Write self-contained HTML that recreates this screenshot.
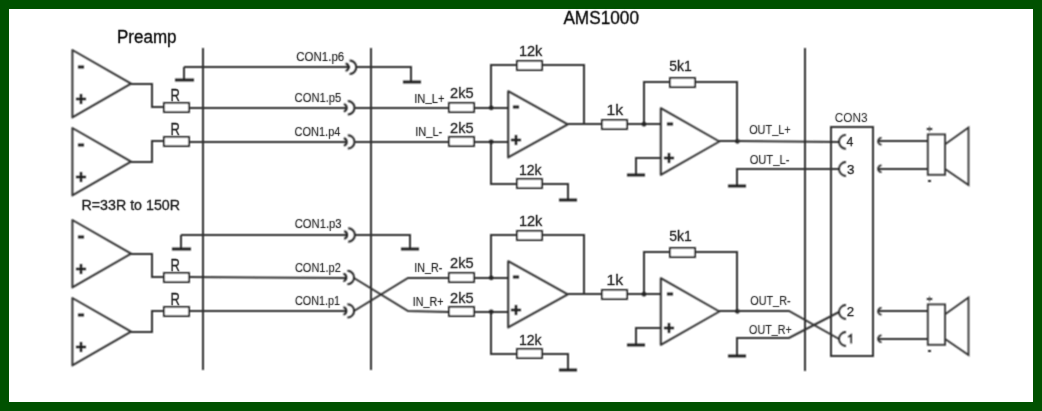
<!DOCTYPE html>
<html><head><meta charset="utf-8"><style>
html,body{margin:0;padding:0;background:#005100;}
body{width:1042px;height:411px;overflow:hidden;position:relative;}
#w{position:absolute;left:9px;top:9px;width:1024px;height:393px;background:#fff;}
svg{position:absolute;left:0;top:0;}
text{font-family:"Liberation Sans",sans-serif;}
#sv{position:absolute;left:0;top:0;width:1042px;height:411px;}
</style></head><body><div id="w"></div>
<div id="sv"><svg width="1042" height="411" viewBox="0 0 1042 411">
<defs><filter id="bl" x="0" y="0" width="1042" height="411" filterUnits="userSpaceOnUse"><feConvolveMatrix order="3" kernelMatrix="0.0686 0.1247 0.0686 0.1247 0.2266 0.1247 0.0686 0.1247 0.0686" divisor="1" edgeMode="none"/></filter><filter id="bt" x="0" y="0" width="1042" height="411" filterUnits="userSpaceOnUse"><feConvolveMatrix order="3" kernelMatrix="0.0144 0.0912 0.0144 0.0912 0.5776 0.0912 0.0144 0.0912 0.0144" divisor="1" edgeMode="none"/></filter></defs>
<g filter="url(#bl)">
<path d="M203,48 L203,370" fill="none" stroke="#2d2d2d" stroke-width="2.0"/>
<path d="M371,48 L371,370" fill="none" stroke="#2d2d2d" stroke-width="2.0"/>
<path d="M805,48 L805,371" fill="none" stroke="#2d2d2d" stroke-width="2.0"/>
<path d="M72.4,50.0 L131.1,83.7 L72.4,117.4 Z" fill="none" stroke="#2d2d2d" stroke-width="2.0" stroke-linejoin="round"/>
<path d="M78,67 L84,67" fill="none" stroke="#1a1a1a" stroke-width="2.8"/>
<path d="M76,99 L86,99" fill="none" stroke="#1a1a1a" stroke-width="2.4"/>
<path d="M81,94 L81,104" fill="none" stroke="#1a1a1a" stroke-width="2.4"/>
<path d="M72.4,128.0 L131.1,161.7 L72.4,195.4 Z" fill="none" stroke="#2d2d2d" stroke-width="2.0" stroke-linejoin="round"/>
<path d="M78,145 L84,145" fill="none" stroke="#1a1a1a" stroke-width="2.8"/>
<path d="M76,177 L86,177" fill="none" stroke="#1a1a1a" stroke-width="2.4"/>
<path d="M81,172 L81,182" fill="none" stroke="#1a1a1a" stroke-width="2.4"/>
<path d="M131,84 L152,84 L152,107 L163,107" fill="none" stroke="#2d2d2d" stroke-width="2.0"/>
<path d="M131,162 L152,162 L152,141 L163,141" fill="none" stroke="#2d2d2d" stroke-width="2.0"/>
<rect x="164" y="103" width="25" height="9" fill="#fff" stroke="#2d2d2d" stroke-width="2.0"/>
<rect x="164" y="137" width="25" height="9" fill="#fff" stroke="#2d2d2d" stroke-width="2.0"/>
<path d="M72.4,220.0 L131.1,253.7 L72.4,287.4 Z" fill="none" stroke="#2d2d2d" stroke-width="2.0" stroke-linejoin="round"/>
<path d="M78,237 L84,237" fill="none" stroke="#1a1a1a" stroke-width="2.8"/>
<path d="M76,269 L86,269" fill="none" stroke="#1a1a1a" stroke-width="2.4"/>
<path d="M81,264 L81,274" fill="none" stroke="#1a1a1a" stroke-width="2.4"/>
<path d="M72.4,298.0 L131.1,331.7 L72.4,365.4 Z" fill="none" stroke="#2d2d2d" stroke-width="2.0" stroke-linejoin="round"/>
<path d="M78,315 L84,315" fill="none" stroke="#1a1a1a" stroke-width="2.8"/>
<path d="M76,347 L86,347" fill="none" stroke="#1a1a1a" stroke-width="2.4"/>
<path d="M81,342 L81,352" fill="none" stroke="#1a1a1a" stroke-width="2.4"/>
<path d="M131,254 L152,254 L152,277 L163,277" fill="none" stroke="#2d2d2d" stroke-width="2.0"/>
<path d="M131,332 L152,332 L152,311 L163,311" fill="none" stroke="#2d2d2d" stroke-width="2.0"/>
<rect x="164" y="273" width="25" height="9" fill="#fff" stroke="#2d2d2d" stroke-width="2.0"/>
<rect x="164" y="307" width="25" height="9" fill="#fff" stroke="#2d2d2d" stroke-width="2.0"/>
<path d="M448,108 L509,108" fill="none" stroke="#2d2d2d" stroke-width="2.0"/>
<path d="M448,142 L509,142" fill="none" stroke="#2d2d2d" stroke-width="2.0"/>
<path d="M508.2,91.2 L567.8,124.30000000000001 L508.2,157.4 Z" fill="none" stroke="#2d2d2d" stroke-width="2.0" stroke-linejoin="round"/>
<path d="M513,107 L519,107" fill="none" stroke="#1a1a1a" stroke-width="2.8"/>
<path d="M511,140 L521,140" fill="none" stroke="#1a1a1a" stroke-width="2.4"/>
<path d="M516,135 L516,145" fill="none" stroke="#1a1a1a" stroke-width="2.4"/>
<path d="M491,108 L491,65 L584,65 L584,124" fill="none" stroke="#2d2d2d" stroke-width="2.0"/>
<rect x="517" y="61" width="25" height="9" fill="#fff" stroke="#2d2d2d" stroke-width="2.0"/>
<path d="M491,142 L491,184 L568,184 L568,200" fill="none" stroke="#2d2d2d" stroke-width="2.0"/>
<rect x="517" y="179" width="25" height="9" fill="#fff" stroke="#2d2d2d" stroke-width="2.0"/>
<path d="M559,200 L577,200" fill="none" stroke="#1e1e1e" stroke-width="2.8"/>
<circle cx="491.2" cy="107.8" r="2.4" fill="#222"/>
<circle cx="491.2" cy="141.8" r="2.4" fill="#222"/>
<rect x="449" y="103" width="25" height="9" fill="#fff" stroke="#2d2d2d" stroke-width="2.0"/>
<rect x="449" y="137" width="25" height="9" fill="#fff" stroke="#2d2d2d" stroke-width="2.0"/>
<path d="M568,124 L661,124" fill="none" stroke="#2d2d2d" stroke-width="2.0"/>
<rect x="602" y="120" width="25" height="9" fill="#fff" stroke="#2d2d2d" stroke-width="2.0"/>
<path d="M660.8,108.2 L719.4,141.5 L660.8,174.8 Z" fill="none" stroke="#2d2d2d" stroke-width="2.0" stroke-linejoin="round"/>
<path d="M667,124 L673,124" fill="none" stroke="#1a1a1a" stroke-width="2.8"/>
<path d="M664,158 L674,158" fill="none" stroke="#1a1a1a" stroke-width="2.4"/>
<path d="M669,153 L669,163" fill="none" stroke="#1a1a1a" stroke-width="2.4"/>
<path d="M644,124 L644,82 L737,82 L737,141" fill="none" stroke="#2d2d2d" stroke-width="2.0"/>
<rect x="670" y="78" width="25" height="9" fill="#fff" stroke="#2d2d2d" stroke-width="2.0"/>
<circle cx="644.0" cy="124.2" r="2.4" fill="#222"/>
<path d="M661,158 L636,158 L636,175" fill="none" stroke="#2d2d2d" stroke-width="2.0"/>
<path d="M627,175 L645,175" fill="none" stroke="#1e1e1e" stroke-width="2.8"/>
<path d="M719,141 L737,141" fill="none" stroke="#2d2d2d" stroke-width="2.0"/>
<circle cx="737.4" cy="141.3" r="2.4" fill="#222"/>
<path d="M878,141 L928,141" fill="none" stroke="#2d2d2d" stroke-width="2.0"/>
<path d="M881.5,137.79999999999998 A3.4,3.4 0 0 0 881.5,144.6" fill="none" stroke="#222" stroke-width="1.8"/>
<path d="M878,169 L928,169" fill="none" stroke="#2d2d2d" stroke-width="2.0"/>
<path d="M881.5,165.4 A3.4,3.4 0 0 0 881.5,172.20000000000002" fill="none" stroke="#222" stroke-width="1.8"/>
<rect x="927.8" y="134.4" width="17.3" height="40.4" fill="none" stroke="#2d2d2d" stroke-width="1.8"/>
<path d="M945.1,144.2 L968.5,127.6 L968.5,185 L945.1,169.1" fill="none" stroke="#2d2d2d" stroke-width="1.8"/>
<rect x="926.8" y="128" width="5.4" height="2" fill="#222"/>
<rect x="929" y="126.3" width="1" height="5.4" fill="#555"/>
<rect x="928" y="180" width="3" height="2" fill="#222"/>
<path d="M448,278 L509,278" fill="none" stroke="#2d2d2d" stroke-width="2.0"/>
<path d="M448,312 L509,312" fill="none" stroke="#2d2d2d" stroke-width="2.0"/>
<path d="M508.2,261.2 L567.8,294.29999999999995 L508.2,327.4 Z" fill="none" stroke="#2d2d2d" stroke-width="2.0" stroke-linejoin="round"/>
<path d="M513,277 L519,277" fill="none" stroke="#1a1a1a" stroke-width="2.8"/>
<path d="M511,310 L521,310" fill="none" stroke="#1a1a1a" stroke-width="2.4"/>
<path d="M516,305 L516,315" fill="none" stroke="#1a1a1a" stroke-width="2.4"/>
<path d="M491,278 L491,235 L584,235 L584,294" fill="none" stroke="#2d2d2d" stroke-width="2.0"/>
<rect x="517" y="231" width="25" height="9" fill="#fff" stroke="#2d2d2d" stroke-width="2.0"/>
<path d="M491,312 L491,354 L568,354 L568,370" fill="none" stroke="#2d2d2d" stroke-width="2.0"/>
<rect x="517" y="349" width="25" height="9" fill="#fff" stroke="#2d2d2d" stroke-width="2.0"/>
<path d="M559,370 L577,370" fill="none" stroke="#1e1e1e" stroke-width="2.8"/>
<circle cx="491.2" cy="277.8" r="2.4" fill="#222"/>
<circle cx="491.2" cy="311.8" r="2.4" fill="#222"/>
<rect x="449" y="273" width="25" height="9" fill="#fff" stroke="#2d2d2d" stroke-width="2.0"/>
<rect x="449" y="307" width="25" height="9" fill="#fff" stroke="#2d2d2d" stroke-width="2.0"/>
<path d="M568,294 L661,294" fill="none" stroke="#2d2d2d" stroke-width="2.0"/>
<rect x="602" y="290" width="25" height="9" fill="#fff" stroke="#2d2d2d" stroke-width="2.0"/>
<path d="M660.8,278.2 L719.4,311.5 L660.8,344.8 Z" fill="none" stroke="#2d2d2d" stroke-width="2.0" stroke-linejoin="round"/>
<path d="M667,294 L673,294" fill="none" stroke="#1a1a1a" stroke-width="2.8"/>
<path d="M664,328 L674,328" fill="none" stroke="#1a1a1a" stroke-width="2.4"/>
<path d="M669,323 L669,333" fill="none" stroke="#1a1a1a" stroke-width="2.4"/>
<path d="M644,294 L644,252 L737,252 L737,311" fill="none" stroke="#2d2d2d" stroke-width="2.0"/>
<rect x="670" y="248" width="25" height="9" fill="#fff" stroke="#2d2d2d" stroke-width="2.0"/>
<circle cx="644.0" cy="294.2" r="2.4" fill="#222"/>
<path d="M661,328 L636,328 L636,345" fill="none" stroke="#2d2d2d" stroke-width="2.0"/>
<path d="M627,345 L645,345" fill="none" stroke="#1e1e1e" stroke-width="2.8"/>
<path d="M719,311 L737,311" fill="none" stroke="#2d2d2d" stroke-width="2.0"/>
<circle cx="737.4" cy="311.3" r="2.4" fill="#222"/>
<path d="M878,311 L928,311" fill="none" stroke="#2d2d2d" stroke-width="2.0"/>
<path d="M881.5,307.8 A3.4,3.4 0 0 0 881.5,314.59999999999997" fill="none" stroke="#222" stroke-width="1.8"/>
<path d="M878,339 L928,339" fill="none" stroke="#2d2d2d" stroke-width="2.0"/>
<path d="M881.5,335.40000000000003 A3.4,3.4 0 0 0 881.5,342.2" fill="none" stroke="#222" stroke-width="1.8"/>
<rect x="927.8" y="304.4" width="17.3" height="40.4" fill="none" stroke="#2d2d2d" stroke-width="1.8"/>
<path d="M945.1,314.2 L968.5,297.6 L968.5,355 L945.1,339.1" fill="none" stroke="#2d2d2d" stroke-width="1.8"/>
<rect x="926.8" y="298" width="5.4" height="2" fill="#222"/>
<rect x="929" y="296.3" width="1" height="5.4" fill="#555"/>
<rect x="928" y="350" width="3" height="2" fill="#222"/>
<path d="M184,67 L184,80" fill="none" stroke="#2d2d2d" stroke-width="2.0"/>
<path d="M175,80 L194,80" fill="none" stroke="#1e1e1e" stroke-width="2.8"/>
<path d="M184,67 L350,67" fill="none" stroke="#2d2d2d" stroke-width="2.0"/>
<path d="M345.6,63.5 A3.8,3.8 0 0 1 345.6,70.9" fill="none" stroke="#222" stroke-width="2.0"/>
<path d="M349.6,60.5 A6.7,6.7 0 0 1 349.6,73.9" fill="none" stroke="#222" stroke-width="2.0"/>
<path d="M356,67 L411,67 L411,82" fill="none" stroke="#2d2d2d" stroke-width="2.0"/>
<path d="M403,82 L421,82" fill="none" stroke="#1e1e1e" stroke-width="2.8"/>
<path d="M189,108 L347,108" fill="none" stroke="#2d2d2d" stroke-width="2.0"/>
<path d="M343.8,104.1 A3.8,3.8 0 0 1 343.8,111.5" fill="none" stroke="#222" stroke-width="2.0"/>
<path d="M347.8,101.1 A6.7,6.7 0 0 1 347.8,114.5" fill="none" stroke="#222" stroke-width="2.0"/>
<path d="M354,108 L448,108" fill="none" stroke="#2d2d2d" stroke-width="2.0"/>
<path d="M189,142 L347,142" fill="none" stroke="#2d2d2d" stroke-width="2.0"/>
<path d="M343.8,138.20000000000002 A3.8,3.8 0 0 1 343.8,145.6" fill="none" stroke="#222" stroke-width="2.0"/>
<path d="M347.8,135.20000000000002 A6.7,6.7 0 0 1 347.8,148.6" fill="none" stroke="#222" stroke-width="2.0"/>
<path d="M354,142 L448,142" fill="none" stroke="#2d2d2d" stroke-width="2.0"/>
<path d="M181,235 L181,249" fill="none" stroke="#2d2d2d" stroke-width="2.0"/>
<path d="M172,249 L191,249" fill="none" stroke="#1e1e1e" stroke-width="2.8"/>
<path d="M181,235 L348,235" fill="none" stroke="#2d2d2d" stroke-width="2.0"/>
<path d="M344.2,231.3 A3.8,3.8 0 0 1 344.2,238.7" fill="none" stroke="#222" stroke-width="2.0"/>
<path d="M348.2,228.3 A6.7,6.7 0 0 1 348.2,241.7" fill="none" stroke="#222" stroke-width="2.0"/>
<path d="M355,235 L410,235 L410,249" fill="none" stroke="#2d2d2d" stroke-width="2.0"/>
<path d="M401,249 L419,249" fill="none" stroke="#1e1e1e" stroke-width="2.8"/>
<path d="M189,277 L346,278" fill="none" stroke="#2d2d2d" stroke-width="2.0"/>
<path d="M343.40000000000003,273.8 A3.8,3.8 0 0 1 343.40000000000003,281.2" fill="none" stroke="#222" stroke-width="2.0"/>
<path d="M347.40000000000003,270.8 A6.7,6.7 0 0 1 347.40000000000003,284.2" fill="none" stroke="#222" stroke-width="2.0"/>
<path d="M189,311 L346,311" fill="none" stroke="#2d2d2d" stroke-width="2.0"/>
<path d="M343.40000000000003,307.2 A3.8,3.8 0 0 1 343.40000000000003,314.59999999999997" fill="none" stroke="#222" stroke-width="2.0"/>
<path d="M347.40000000000003,304.2 A6.7,6.7 0 0 1 347.40000000000003,317.59999999999997" fill="none" stroke="#222" stroke-width="2.0"/>
<path d="M354,278 L408,311 L448,312" fill="none" stroke="#2d2d2d" stroke-width="2.0"/>
<path d="M354,311 L408,278 L448,278" fill="none" stroke="#2d2d2d" stroke-width="2.0"/>
<path d="M737,141 L839,142" fill="none" stroke="#2d2d2d" stroke-width="2.0"/>
<path d="M846.0,134.8 A7.0,7.0 0 0 0 846.0,148.8" fill="none" stroke="#222" stroke-width="1.8"/>
<path d="M737,186 L737,169 L839,169" fill="none" stroke="#2d2d2d" stroke-width="2.0"/>
<path d="M728,186 L746,186" fill="none" stroke="#1e1e1e" stroke-width="2.8"/>
<path d="M846.0,162.0 A7.0,7.0 0 0 0 846.0,176.0" fill="none" stroke="#222" stroke-width="1.8"/>
<path d="M737,311 L789,311 L839,339" fill="none" stroke="#2d2d2d" stroke-width="2.0"/>
<path d="M737,356 L737,338 L789,338 L839,312" fill="none" stroke="#2d2d2d" stroke-width="2.0"/>
<path d="M728,356 L746,356" fill="none" stroke="#1e1e1e" stroke-width="2.8"/>
<path d="M846.0,305.0 A7.0,7.0 0 0 0 846.0,319.0" fill="none" stroke="#222" stroke-width="1.8"/>
<path d="M846.0,332.0 A7.0,7.0 0 0 0 846.0,346.0" fill="none" stroke="#222" stroke-width="1.8"/>
<rect x="831" y="127" width="42" height="229" fill="none" stroke="#2d2d2d" stroke-width="2"/>
<path d="M848.2,337.2 L851.2,334.8 L851.2,343.4" fill="none" stroke="#1a1a1a" stroke-width="1.5"/>
</g>
<g filter="url(#bt)">
<text x="117.00" y="43.2" font-size="18" textLength="59.50" lengthAdjust="spacingAndGlyphs" fill="#000" stroke="#000" stroke-width="0.3">Preamp</text>
<text x="563.40" y="24.1" font-size="18" textLength="75.60" lengthAdjust="spacingAndGlyphs" fill="#000" stroke="#000" stroke-width="0.3">AMS1000</text>
<text x="81.50" y="210.2" font-size="14" textLength="98.50" lengthAdjust="spacingAndGlyphs" fill="#161616" stroke="#161616" stroke-width="0.3">R=33R to 150R</text>
<text x="170.41" y="100.6" font-size="16.5" textLength="9.39" lengthAdjust="spacingAndGlyphs" fill="#161616" stroke="#161616" stroke-width="0.3">R</text>
<text x="170.41" y="134.6" font-size="16.5" textLength="9.39" lengthAdjust="spacingAndGlyphs" fill="#161616" stroke="#161616" stroke-width="0.3">R</text>
<text x="170.41" y="270.6" font-size="16.5" textLength="9.39" lengthAdjust="spacingAndGlyphs" fill="#161616" stroke="#161616" stroke-width="0.3">R</text>
<text x="170.41" y="304.6" font-size="16.5" textLength="9.39" lengthAdjust="spacingAndGlyphs" fill="#161616" stroke="#161616" stroke-width="0.3">R</text>
<text x="296.32" y="60.7" font-size="12.5" textLength="47.95" lengthAdjust="spacingAndGlyphs" fill="#1e1e1e" stroke="#1e1e1e" stroke-width="0.15">CON1.p6</text>
<text x="294.62" y="101.9" font-size="12.5" textLength="46.65" lengthAdjust="spacingAndGlyphs" fill="#1e1e1e" stroke="#1e1e1e" stroke-width="0.15">CON1.p5</text>
<text x="294.62" y="136.2" font-size="12.5" textLength="45.75" lengthAdjust="spacingAndGlyphs" fill="#1e1e1e" stroke="#1e1e1e" stroke-width="0.15">CON1.p4</text>
<text x="294.73" y="228" font-size="12.5" textLength="46.85" lengthAdjust="spacingAndGlyphs" fill="#1e1e1e" stroke="#1e1e1e" stroke-width="0.15">CON1.p3</text>
<text x="294.93" y="271.9" font-size="12.5" textLength="45.85" lengthAdjust="spacingAndGlyphs" fill="#1e1e1e" stroke="#1e1e1e" stroke-width="0.15">CON1.p2</text>
<text x="294.93" y="305.1" font-size="12.5" textLength="45.05" lengthAdjust="spacingAndGlyphs" fill="#1e1e1e" stroke="#1e1e1e" stroke-width="0.15">CON1.p1</text>
<text x="414.23" y="102.6" font-size="12.2" textLength="30.23" lengthAdjust="spacingAndGlyphs" fill="#111" stroke="#111" stroke-width="0.1">IN<tspan dy="-1.2">_</tspan><tspan dy="1.2">L+</tspan></text>
<text x="415.23" y="136.0" font-size="12.2" textLength="27.03" lengthAdjust="spacingAndGlyphs" fill="#111" stroke="#111" stroke-width="0.1">IN<tspan dy="-1.2">_</tspan><tspan dy="1.2">L-</tspan></text>
<text x="414.23" y="271.9" font-size="12.2" textLength="28.03" lengthAdjust="spacingAndGlyphs" fill="#111" stroke="#111" stroke-width="0.1">IN<tspan dy="-1.2">_</tspan><tspan dy="1.2">R-</tspan></text>
<text x="412.83" y="306.3" font-size="12.2" textLength="30.73" lengthAdjust="spacingAndGlyphs" fill="#111" stroke="#111" stroke-width="0.1">IN<tspan dy="-1.2">_</tspan><tspan dy="1.2">R+</tspan></text>
<text x="450.04" y="98.2" font-size="15.5" textLength="23.53" lengthAdjust="spacingAndGlyphs" fill="#1e1e1e" stroke="#1e1e1e" stroke-width="0.3">2k5</text>
<text x="450.04" y="132.6" font-size="15.5" textLength="23.53" lengthAdjust="spacingAndGlyphs" fill="#1e1e1e" stroke="#1e1e1e" stroke-width="0.3">2k5</text>
<text x="450.04" y="268.2" font-size="15.5" textLength="23.53" lengthAdjust="spacingAndGlyphs" fill="#1e1e1e" stroke="#1e1e1e" stroke-width="0.3">2k5</text>
<text x="450.04" y="302.6" font-size="15.5" textLength="23.53" lengthAdjust="spacingAndGlyphs" fill="#1e1e1e" stroke="#1e1e1e" stroke-width="0.3">2k5</text>
<text x="518.93" y="55.7" font-size="15.5" textLength="23.43" lengthAdjust="spacingAndGlyphs" fill="#1e1e1e" stroke="#1e1e1e" stroke-width="0.3">12k</text>
<text x="518.93" y="174.8" font-size="15.5" textLength="22.73" lengthAdjust="spacingAndGlyphs" fill="#1e1e1e" stroke="#1e1e1e" stroke-width="0.3">12k</text>
<text x="518.93" y="225.7" font-size="15.5" textLength="23.43" lengthAdjust="spacingAndGlyphs" fill="#1e1e1e" stroke="#1e1e1e" stroke-width="0.3">12k</text>
<text x="518.93" y="344.8" font-size="15.5" textLength="22.73" lengthAdjust="spacingAndGlyphs" fill="#1e1e1e" stroke="#1e1e1e" stroke-width="0.3">12k</text>
<text x="606.53" y="115.2" font-size="15.5" textLength="16.73" lengthAdjust="spacingAndGlyphs" fill="#1e1e1e" stroke="#1e1e1e" stroke-width="0.3">1k</text>
<text x="606.53" y="285.2" font-size="15.5" textLength="16.73" lengthAdjust="spacingAndGlyphs" fill="#1e1e1e" stroke="#1e1e1e" stroke-width="0.3">1k</text>
<text x="669.24" y="71.1" font-size="15.5" textLength="22.53" lengthAdjust="spacingAndGlyphs" fill="#1e1e1e" stroke="#1e1e1e" stroke-width="0.3">5k1</text>
<text x="669.24" y="241.1" font-size="15.5" textLength="22.53" lengthAdjust="spacingAndGlyphs" fill="#1e1e1e" stroke="#1e1e1e" stroke-width="0.3">5k1</text>
<text x="749.14" y="134.2" font-size="12" textLength="41.52" lengthAdjust="spacingAndGlyphs" fill="#1e1e1e" stroke="#1e1e1e" stroke-width="0.1">OUT<tspan dy="-1.2">_</tspan><tspan dy="1.2">L+</tspan></text>
<text x="749.64" y="164.2" font-size="12" textLength="39.72" lengthAdjust="spacingAndGlyphs" fill="#1e1e1e" stroke="#1e1e1e" stroke-width="0.1">OUT<tspan dy="-1.2">_</tspan><tspan dy="1.2">L-</tspan></text>
<text x="750.24" y="305.2" font-size="12" textLength="40.32" lengthAdjust="spacingAndGlyphs" fill="#1e1e1e" stroke="#1e1e1e" stroke-width="0.1">OUT<tspan dy="-1.2">_</tspan><tspan dy="1.2">R-</tspan></text>
<text x="749.04" y="334.4" font-size="12" textLength="42.72" lengthAdjust="spacingAndGlyphs" fill="#1e1e1e" stroke="#1e1e1e" stroke-width="0.1">OUT<tspan dy="-1.2">_</tspan><tspan dy="1.2">R+</tspan></text>
<text x="834.83" y="121.6" font-size="12.5" textLength="32.85" lengthAdjust="spacingAndGlyphs" fill="#222" stroke="#222" stroke-width="0">CON3</text>
<text x="846.62" y="146.4" font-size="12.5" textLength="6.85" lengthAdjust="spacingAndGlyphs" fill="#161616" stroke="#161616" stroke-width="0.25">4</text>
<text x="846.92" y="174.3" font-size="12.5" textLength="7.45" lengthAdjust="spacingAndGlyphs" fill="#161616" stroke="#161616" stroke-width="0.25">3</text>
<text x="846.83" y="315.8" font-size="12.5" textLength="7.35" lengthAdjust="spacingAndGlyphs" fill="#161616" stroke="#161616" stroke-width="0.25">2</text>
</g>
</svg></div></body></html>
